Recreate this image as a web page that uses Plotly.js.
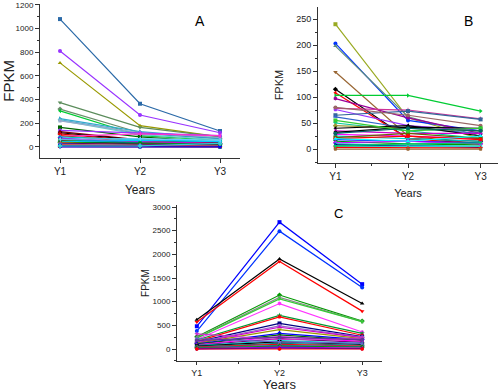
<!DOCTYPE html>
<html>
<head>
<meta charset="utf-8">
<script src="https://cdn.plot.ly/plotly-3.0.1.min.js"></script>
<style>html,body{margin:0;padding:0;background:#fff;}#chart{width:500px;height:392px;}</style>
</head>
<body>
<div id="chart"></div>
<script>
// Category labels
var years = ['Y1', 'Y2', 'Y3'];

// Panel A (FPKM per gene, one entry per line)
var aY1 = [1080, 810, 710, 375, 320, 305, 240, 230, 225, 220, 165, 140, 130, 120, 110, 90, 95, 85, 75, 70, 60, 55, 50, 45, 40, 35, 30, 25, 20, 15, 10, 5, 2, 0, 8, 65];
var aY2 = [365, 270, 180, 165, 120, 95, 130, 115, 105, 120, 85, 115, 60, 55, 50, 110, 40, 60, 30, 45, 35, 20, 25, 55, 30, 15, 20, 10, 12, 8, 5, 3, 2, 0, 10, 70];
var aY3 = [135, 120, 85, 85, 70, 55, 75, 70, 60, 80, 40, 95, 40, 35, 30, 95, 20, 50, 25, 30, 20, 15, 10, 45, 20, 10, 15, 5, 8, 5, 3, 2, 1, 0, 30, 55];
var aColors = ['#2b6aa8', '#9933ff', '#999900', '#5b8c5b', '#6b8e6b', '#00cc33', '#33aacc', '#3399cc', '#66cccc', '#99aacc', '#006600', '#9933ff', '#800000', '#000000', '#cc0000', '#ff33cc', '#ff0000', '#00cccc', '#0000ff', '#cc00cc', '#008080', '#808000', '#000080', '#00ccff', '#009900', '#ff6600', '#660066', '#3366ff', '#999999', '#ff0000', '#0000ff', '#00cc00', '#ff0000', '#0000ff', '#33cccc', '#66ccff'];

// Panel B
var bY1 = [240, 203, 198, 148, 115, 108, 103, 97, 78, 76, 65, 80, 62, 50, 45, 40, 35, 32, 28, 25, 22, 20, 18, 15, 12, 10, 8, 5, 3, 0, 55, 30, 20, 6];
var bY2 = [60, 55, 62, 25, 20, 20, 103, 60, 75, 45, 73, 65, 40, 35, 40, 45, 30, 42, 25, 20, 30, 25, 15, 10, 15, 8, 5, 5, 2, 0, 35, 40, 15, 10];
var bY3 = [20, 35, 25, 10, 15, 10, 73, 30, 58, 35, 57, 45, 30, 20, 35, 25, 30, 40, 20, 15, 20, 18, 12, 8, 10, 5, 3, 5, 2, 0, 40, 35, 25, 12];
var bColors = ['#99aa22', '#0033ff', '#5b8c7b', '#996633', '#000000', '#ff0000', '#00cc33', '#990099', '#cc3399', '#9933ff', '#336699', '#996666', '#3366cc', '#00cc99', '#999933', '#000000', '#cc00cc', '#000000', '#ff00ff', '#00cccc', '#666600', '#ff0000', '#0000ff', '#009900', '#cc00ff', '#00cccc', '#000080', '#33cccc', '#ff0000', '#996633', '#33cc33', '#006666', '#00ffff', '#00cc66'];

// Panel C
var cY1 = [480, 380, 620, 570, 260, 240, 230, 200, 190, 160, 150, 140, 130, 120, 110, 100, 90, 80, 320, 70, 60, 50, 40, 30, 20, 10, 5, 0, 220, 180];
var cY2 = [2680, 2490, 1900, 1850, 1140, 1090, 1060, 960, 710, 680, 540, 490, 460, 410, 330, 300, 260, 220, 200, 180, 150, 120, 100, 80, 60, 40, 20, 0, 150, 250];
var cY3 = [1370, 1300, 960, 800, 590, 580, 580, 360, 330, 290, 260, 250, 240, 220, 200, 180, 160, 140, 230, 120, 100, 80, 60, 50, 40, 20, 10, 0, 120, 200];
var cColors = ['#0000ff', '#0033ff', '#000000', '#ff0000', '#009900', '#8a8a8a', '#33cc33', '#ff33ff', '#009933', '#ff0000', '#000080', '#9966cc', '#cc00cc', '#999900', '#0000ff', '#006600', '#ff00ff', '#800080', '#cc33cc', '#00cccc', '#000000', '#008080', '#ff0000', '#3366cc', '#009900', '#cc00cc', '#0000ff', '#ff0000', '#6666cc', '#663399'];

var symbols = ['square', 'circle', 'triangle-up', 'triangle-down', 'diamond', 'triangle-left', 'triangle-right', 'hexagon', 'star', 'pentagon'];

var traces = [];
function addPanel(v1, v2, v3, cols, xa, ya) {
  for (var i = 0; i < v1.length; i++) {
    traces.push({
      x: years, y: [v1[i], v2[i], v3[i]],
      xaxis: xa, yaxis: ya,
      type: 'scatter', mode: 'lines+markers',
      line: {color: cols[i], width: 1.2},
      marker: {color: cols[i], size: 4, symbol: symbols[i % symbols.length]},
      showlegend: false, hoverinfo: 'skip'
    });
  }
}
addPanel(aY1, aY2, aY3, aColors, 'x', 'y');
addPanel(bY1, bY2, bY3, bColors, 'x2', 'y2');
addPanel(cY1, cY2, cY3, cColors, 'x3', 'y3');

var fontFam = 'Liberation Sans, Arial, sans-serif';
function xax(domain, range, anchor, tsize, titleSize, standoff, tlen) {
  return {
    domain: domain, anchor: anchor, type: 'category', range: range,
    showline: true, linecolor: '#333', linewidth: 1, showgrid: false, zeroline: false,
    ticks: 'outside', ticklen: tlen, tickcolor: '#333',
    tickfont: {family: fontFam, size: tsize, color: '#222'},
    minor: {ticks: 'outside', ticklen: 2, tickcolor: '#333', tickvals: [0.5, 1.5]},
    title: {text: 'Years', font: {family: fontFam, size: titleSize, color: '#222'}, standoff: standoff},
    automargin: false, fixedrange: true
  };
}
function yax(domain, range, anchor, dtick, tsize, titleSize, standoff) {
  return {
    domain: domain, anchor: anchor, range: range,
    showline: true, linecolor: '#333', linewidth: 1, showgrid: false, zeroline: false,
    ticks: 'outside', ticklen: 4, tickcolor: '#333', dtick: dtick, tick0: 0,
    tickfont: {family: fontFam, size: tsize, color: '#222'},
    minor: {ticks: 'outside', ticklen: 2, tickcolor: '#333', dtick: dtick / 2},
    title: {text: 'FPKM', font: {family: fontFam, size: titleSize, color: '#222'}, standoff: standoff},
    automargin: false, fixedrange: true
  };
}

var layout = {
  width: 500, height: 392,
  margin: {l: 0, r: 0, t: 0, b: 0},
  paper_bgcolor: '#fff', plot_bgcolor: 'rgba(0,0,0,0)',
  showlegend: false,
  xaxis: xax([0.08, 0.48], [-0.25, 2.25], 'y', 10, 12, 9, 4),
  yaxis: yax([0.597, 0.990], [-93, 1208], 'x', 200, 8, 15, 2),
  xaxis2: xax([0.636, 0.996], [-0.24, 2.24], 'y2', 10, 11, 8, 4),
  yaxis2: yax([0.584, 0.982], [-27, 273], 'x2', 50, 9, 11, 10),
  xaxis3: xax([0.354, 0.764], [-0.24, 2.24], 'y3', 9, 13, 6, 3),
  yaxis3: yax([0.079, 0.477], [-254, 3042], 'x3', 500, 8, 10, 1),
  annotations: [
    {text: 'A', xref: 'paper', yref: 'paper', x: 200 / 500, y: 1 - 11 / 392, showarrow: false, font: {family: fontFam, size: 14, color: '#000'}},
    {text: 'B', xref: 'paper', yref: 'paper', x: 475 / 500, y: 1 - 11 / 392, showarrow: false, font: {family: fontFam, size: 14, color: '#000'}},
    {text: 'C', xref: 'paper', yref: 'paper', x: 345 / 500, y: 1 - 213 / 392, showarrow: false, font: {family: fontFam, size: 13, color: '#000'}}
  ]
};

Plotly.newPlot('chart', traces, layout, {staticPlot: true, displayModeBar: false});
</script>
</body>
</html>
